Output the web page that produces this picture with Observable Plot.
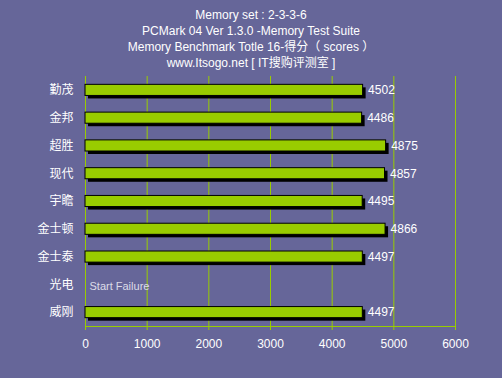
<!DOCTYPE html>
<html>
<head>
<meta charset="utf-8">
<script src="https://cdn.jsdelivr.net/npm/d3@7"></script>
<script src="https://cdn.jsdelivr.net/npm/@observablehq/plot@0.6"></script>
<style>
  html, body { margin: 0; padding: 0; background: #666699; }
  #wrap { width: 502px; height: 378px; background: #666699; font-family: "Liberation Sans", "Noto Sans CJK SC", sans-serif; }
  #title { height: 71px; box-sizing: border-box; padding-top: 7px; text-align: center; color: #ffffff; font-size: 12px; line-height: 16px; }
  svg { display: block; }
</style>
</head>
<body>
<div id="wrap">
  <div id="title">
    <div>Memory set : 2-3-3-6</div>
    <div>PCMark 04 Ver 1.3.0 -Memory Test Suite</div>
    <div>Memory Benchmark Totle 16-得分（ scores ）</div>
    <div>www.Itsogo.net [ IT搜购评测室 ]</div>
  </div>
  <div id="chart"></div>
</div>
<script>
const names = ["勤茂", "金邦", "超胜", "现代", "宇瞻", "金士顿", "金士泰", "光电", "威刚"];
const scores = [4502, 4486, 4875, 4857, 4495, 4866, 4497, null, 4497];
const notes = ["", "", "", "", "", "", "", "Start Failure", ""];
const xTicks = [0, 1000, 2000, 3000, 4000, 5000, 6000];

const rows = names.map((n, i) => ({name: n, value: scores[i], note: notes[i]}));
const bars = rows.filter(d => d.value != null);
const noteRows = rows.filter(d => d.note);

const green = "#99cc00";

const chart = Plot.plot({
  width: 502,
  height: 307,
  marginTop: 5,
  marginBottom: 52,
  marginLeft: 85,
  marginRight: 47,
  style: {background: "transparent", color: "#ffffff", fontSize: "12px", fontFamily: "'Liberation Sans', 'Noto Sans CJK SC', sans-serif"},
  x: {domain: [0, 6000], ticks: xTicks},
  y: {domain: names, paddingInner: 0.6, paddingOuter: 0.3, round: false},
  marks: [
    Plot.ruleX(xTicks, {stroke: green, strokeWidth: 1}),
    Plot.axisX({ticks: xTicks, tickFormat: d => String(d), tickSize: 4, tickPadding: 9, stroke: green, fill: "#ffffff", label: null, fontSize: 12}),
    Plot.axisY({tickSize: 0, tickPadding: 12, fill: "#ffffff", label: null, fontSize: 12, fontFamily: "'Noto Sans CJK SC', sans-serif"}),
    Plot.frame({anchor: "bottom", stroke: green}),
    Plot.barX(bars, {x: "value", y: "name", fill: "#000000", dx: 3, dy: 3}),
    Plot.barX(bars, {x: "value", y: "name", fill: green, stroke: "#000000", strokeWidth: 1}),
    Plot.text(bars, {x: "value", y: "name", text: d => String(d.value), textAnchor: "start", dx: 5, fill: "#ffffff", fontSize: 12}),
    Plot.text(noteRows, {x: () => 0, y: "name", text: "note", textAnchor: "start", dx: 4, dy: 2, fill: "#dcdce8", fontSize: 11})
  ]
});
document.getElementById("chart").appendChild(chart);
</script>
</body>
</html>
